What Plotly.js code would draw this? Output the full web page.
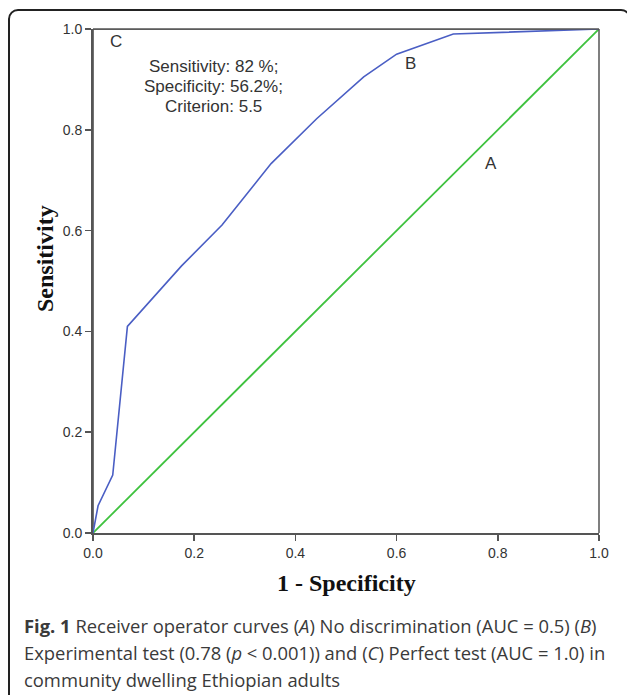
<!DOCTYPE html>
<html>
<head>
<meta charset="utf-8">
<script src="https://cdn.plot.ly/plotly-3.0.1.min.js"></script>
<style>
  html, body { margin: 0; padding: 0; background: #fff; }
  #wrap { position: relative; width: 627px; height: 695px; overflow: hidden; }
  #chart { position: absolute; left: 0; top: 0; width: 627px; height: 695px; }
  #box { position: absolute; left: 8px; top: 9px; width: 623px; height: 720px;
         border: 2px solid #222; border-radius: 10px; pointer-events: none; box-sizing: border-box; }
</style>
</head>
<body>
<div id="wrap">
  <div id="chart"></div>
  <div id="box"></div>
</div>
<script>
// Curve A: no discrimination (diagonal)
const xA = [0, 1];
const yA = [0, 1];
// Curve B: experimental test
const xB = [0, 0.010, 0.039, 0.068, 0.175, 0.255, 0.352, 0.442, 0.535, 0.600, 0.712, 1.0];
const yB = [0, 0.054, 0.115, 0.410, 0.530, 0.611, 0.733, 0.822, 0.905, 0.950, 0.990, 1.0];
// Curve C: perfect test
const xC = [0, 0, 1];
const yC = [0, 1, 1];
const tickVals = [0, 0.2, 0.4, 0.6, 0.8, 1.0];
const tickText = ["0.0", "0.2", "0.4", "0.6", "0.8", "1.0"];

const sans = "Liberation Sans, Arial, sans-serif";
const serif = "Liberation Serif, Times New Roman, serif";
const cap = "Open Sans, sans-serif";

const traces = [
  { x: xC, y: yC, mode: "lines", line: { color: "#444444", width: 1.5 }, hoverinfo: "skip" },
  { x: xA, y: yA, mode: "lines", line: { color: "#3fc23f", width: 1.8 } },
  { x: xB, y: yB, mode: "lines", line: { color: "#4a5ec4", width: 1.6 } }
];

const axisCommon = {
  range: [0, 1], showgrid: false, zeroline: false, showline: true,
  linecolor: "#555555", linewidth: 2, ticks: "outside", ticklen: 6, tickwidth: 1.5,
  tickcolor: "#555555", tickvals: tickVals, ticktext: tickText,
  tickfont: { family: sans, size: 14, color: "#333333" }, fixedrange: true
};

function pxX(px) { return (px - 93) / 506; }
function pxY(py) { return (533 - py) / 504; }

const txt = (x, y, t, size) => ({ x: pxX(x), y: pxY(y), xref: "paper", yref: "paper", text: t,
  showarrow: false, xanchor: "center", yanchor: "middle", font: { family: sans, size: size, color: "#333333" } });

const capLine = (y, t) => ({ x: pxX(22), y: pxY(y), xref: "paper", yref: "paper", xanchor: "left", yanchor: "middle",
  showarrow: false, text: t, font: { family: cap, size: 18.4, color: "#3a3a3a" } });

const layout = {
  width: 627, height: 695,
  margin: { l: 93, r: 28, t: 29, b: 162 },
  paper_bgcolor: "#ffffff", plot_bgcolor: "#ffffff",
  showlegend: false,
  xaxis: Object.assign({}, axisCommon),
  yaxis: Object.assign({}, axisCommon),
  shapes: [
    { type: "line", xref: "paper", yref: "paper", x0: 0, x1: 1, y0: 1, y1: 1, line: { color: "#555555", width: 1.5 } },
    { type: "line", xref: "paper", yref: "paper", x0: 1, x1: 1, y0: 0, y1: 1, line: { color: "#555555", width: 1.5 } }
  ],
  annotations: [
    txt(116, 41, "C", 17),
    txt(213, 67, "Sensitivity: 82 %;", 17),
    txt(213, 86, "Specificity: 56.2%;", 17),
    txt(213, 106, "Criterion: 5.5", 17),
    txt(410, 64, "B", 17),
    txt(491, 163, "A", 17),
    { x: pxX(346), y: pxY(583), xref: "paper", yref: "paper", showarrow: false, xanchor: "center", yanchor: "middle",
      text: "<b>1 - Specificity</b>", font: { family: serif, size: 24, color: "#111111" } },
    { x: pxX(45), y: pxY(259), xref: "paper", yref: "paper", showarrow: false, xanchor: "center", yanchor: "middle",
      textangle: -90, text: "<b>Sensitivity</b>", font: { family: serif, size: 24, color: "#111111" } },
    capLine(625, "<b>Fig. 1</b> Receiver operator curves (<i>A</i>) No discrimination (AUC = 0.5) (<i>B</i>)"),
    capLine(652, "Experimental test (0.78 (<i>p</i> < 0.001)) and (<i>C</i>) Perfect test (AUC = 1.0) in"),
    capLine(679, "community dwelling Ethiopian adults")
  ]
};

Plotly.newPlot("chart", traces, layout, { displayModeBar: false, staticPlot: true });
</script>
</body>
</html>
